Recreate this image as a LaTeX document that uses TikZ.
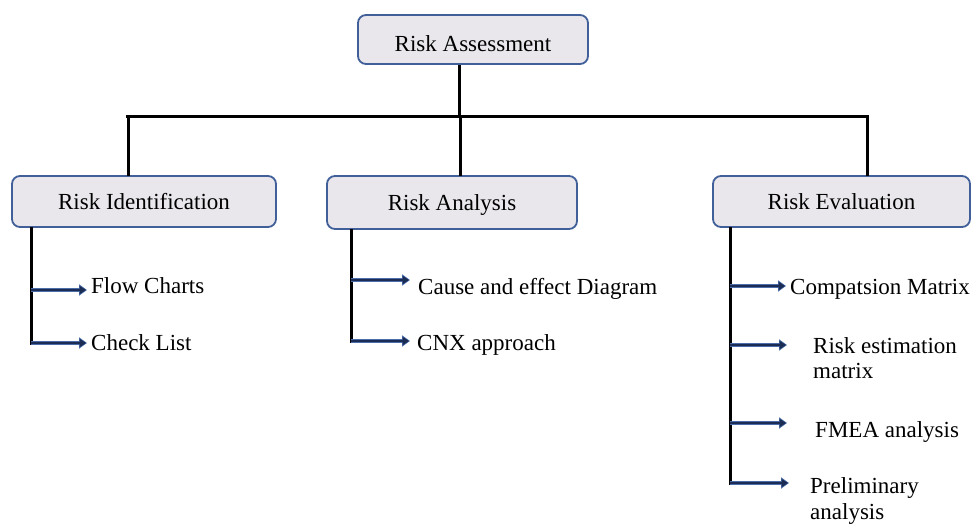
\documentclass[tikz,border=0pt]{standalone}
\usepackage{fontspec}
\setmainfont{Liberation Serif}
\usetikzlibrary{arrows.meta}
\definecolor{boxfill}{RGB}{233,231,236}
\definecolor{boxedge}{RGB}{65,96,154}
\definecolor{arrowblue}{RGB}{27,45,85}
\definecolor{arrowedge}{RGB}{75,110,170}
\begin{document}
\begin{tikzpicture}[x=1pt,y=-1pt,
  box/.style={draw=boxedge,fill=boxfill,line width=1.8pt,rounded corners=8pt,
    inner sep=0pt,text height=16pt,text depth=0.8pt,font=\fontsize{23}{26}\selectfont},
  item/.style={anchor=west,inner sep=0pt,text height=16pt,text depth=0.8pt,font=\fontsize{23}{26}\selectfont},
  item2/.style={anchor=west,inner sep=0pt,align=left,font=\fontsize{23}{25.5}\selectfont},
  trunk/.style={line width=3pt,black},
  arr/.style={line width=4.6pt,arrowedge,-{Triangle[length=8pt,width=11pt]},
    postaction={draw,line width=2.6pt,arrowblue,-{Triangle[length=6.5pt,width=8pt]},shorten >=1pt}}
]
\useasboundingbox (0,0) rectangle (971,524);
% boxes
\node[box,minimum width=230pt,minimum height=49pt,text height=24pt,text depth=0.8pt] (ra) at (473,39.5) {Risk Assessment};
\node[box,minimum width=264pt,minimum height=51pt] (ri) at (144,201.5) {Risk Identification};
\node[box,minimum width=250pt,minimum height=53pt] (ran) at (452,202.5) {Risk Analysis};
\node[box,minimum width=257pt,minimum height=51pt] (rev) at (841.5,201.5) {Risk Evaluation};
% tree connectors
\coordinate (hl) at (126,117);
\coordinate (hr) at (869,117);
\coordinate (hm) at (459,117);
\draw[trunk] (hl) -- (hr);
\draw[trunk] (hm) -- (hm |- ra.south);
\draw[trunk] (128,117) -- (128,176);
\draw[trunk] (460,117) -- (460,176);
\draw[trunk] (867,117) -- (867,176);
% items
\node[item] (fc) at (91,286) {Flow Charts};
\node[item] (cl) at (91,343) {Check List};
\node[item] (ce) at (418,287) {Cause and effect Diagram};
\node[item] (cnx) at (417,343) {CNX approach};
\node[item] (cm) at (790,287) {Compatsion Matrix};
\node[item2] (rem) at (813,358) {Risk estimation\\matrix};
\node[item] (fm) at (815,430) {FMEA analysis};
\node[item2] (pa) at (810,501) {Preliminary\\analysis};
% left trunk
\coordinate (t1) at (31,227);
\coordinate (a1) at (31,290); \coordinate (e1) at (87,290);
\coordinate (a2) at (31,343); \coordinate (e2) at (87,343);
\draw[trunk] (t1) -- (31,344.5);
\draw[arr] (a1) -- (e1);
\draw[arr] (a2) -- (e2);
% middle trunk
\coordinate (t2) at (351,229);
\coordinate (b1) at (351,280); \coordinate (f1) at (410,280);
\coordinate (b2) at (351,341); \coordinate (f2) at (410,341);
\draw[trunk] (t2) -- (351,342.5);
\draw[arr] (b1) -- (f1);
\draw[arr] (b2) -- (f2);
% right trunk
\coordinate (t3) at (730,227);
\coordinate (c1) at (730,286); \coordinate (g1) at (786,286);
\coordinate (c2) at (730,345); \coordinate (g2) at (787,345);
\coordinate (c3) at (730,423); \coordinate (g3) at (787,423);
\coordinate (c4) at (730,483); \coordinate (g4) at (789,483);
\draw[trunk] (t3) -- (730,484.5);
\draw[arr] (c1) -- (g1);
\draw[arr] (c2) -- (g2);
\draw[arr] (c3) -- (g3);
\draw[arr] (c4) -- (g4);
\end{tikzpicture}
\end{document}
